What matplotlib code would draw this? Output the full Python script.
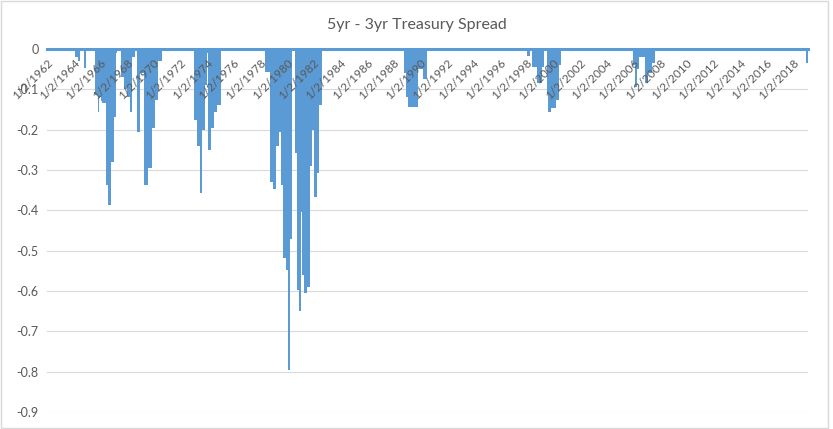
import matplotlib.pyplot as plt
import matplotlib.patches as mpatches
import matplotlib.transforms as mtransforms
import numpy as np

# step series: position on the axis (decimal year) where a level starts, and the spread level
step_years = [
    1962.00, 1964.11, 1964.30, 1964.48, 1964.78, 1964.93,
    1965.61, 1965.83, 1965.91, 1966.06, 1966.14, 1966.44, 1966.59, 1966.81, 1967.04, 1967.19, 1967.26,
    1967.56, 1967.80, 1968.00, 1968.24, 1968.39, 1968.62,
    1968.77, 1969.00, 1969.30, 1969.59, 1969.89, 1970.12, 1970.35, 1970.65,
    1973.05, 1973.30, 1973.52, 1973.65, 1973.88, 1974.03, 1974.11, 1974.35, 1974.55, 1974.80, 1975.08,
    1978.39, 1978.77, 1978.99, 1979.22, 1979.44, 1979.59, 1979.74, 1979.97, 1980.10, 1980.27, 1980.42,
    1980.65, 1980.80, 1980.95, 1981.10, 1981.17, 1981.32, 1981.55, 1981.77, 1981.92, 1982.08, 1982.30,
    1982.45, 1982.68,
    1988.84, 1988.95, 1989.07, 1989.82, 1990.20, 1990.50,
    1998.02, 1998.24,
    1998.39, 1998.77, 1999.14, 1999.29,
    1999.53, 1999.60, 1999.83, 2000.20, 2000.41, 2000.56,
    2005.98, 2006.12, 2006.27, 2006.42, 2006.89, 2007.11, 2007.41, 2007.64,
    2018.99, 2019.14,
]
spread = [
    0.0, -0.02, -0.03, 0.0, -0.047, 0.0,
    -0.115, -0.155, -0.12, -0.13, -0.135, -0.337, -0.386, -0.28, -0.168, -0.01, 0.0,
    -0.07, -0.10, -0.12, -0.155, -0.02, 0.0,
    -0.207, -0.06, -0.337, -0.295, -0.196, -0.126, -0.03, 0.0,
    -0.175, -0.24, -0.357, -0.20, -0.09, -0.01, -0.25, -0.196, -0.155, -0.14, 0.0,
    -0.057, -0.33, -0.347, -0.24, -0.205, -0.337, -0.517, -0.547, -0.795, -0.47, 0.0,
    -0.257, -0.597, -0.65, -0.405, -0.56, -0.604, -0.59, -0.29, -0.2, -0.366, -0.307,
    -0.138, 0.0,
    -0.06, -0.12, -0.143, -0.05, -0.075, 0.0,
    -0.017, 0.0,
    -0.045, -0.085, -0.045, 0.0,
    -0.11, -0.155, -0.146, -0.126, -0.04, 0.0,
    -0.04, -0.093, -0.05, -0.02, -0.085, -0.06, -0.035, 0.0,
    -0.035, -0.035,
]
tick_years = list(range(1962, 2019, 2))
tick_labels = [f'1/2/{y}' for y in tick_years]
y_ticks = [0, -0.1, -0.2, -0.3, -0.4, -0.5, -0.6, -0.7, -0.8, -0.9]

blue = '#5B9BD5'
gray = '#595959'

fig = plt.figure(figsize=(8.33, 4.29), dpi=100)
ax = fig.add_axes([0.0564, 0.0396, 0.9136, 0.8462])

x = np.array(step_years)
y = np.array(spread)
ax.fill_between(x, y, 0, step='post', color=blue, linewidth=0, zorder=1)
ax.plot([x[0], x[-1]], [0, 0], color=blue, lw=2.2, clip_on=False, zorder=1.5)

# grid behind the area, labels in front of it
for v in y_ticks[1:]:
    ax.axhline(v, color='#d9d9d9', lw=0.8, zorder=0.5)
ax.set_axisbelow(False)

ax.set_xlim(1962.0, 2019.14)
ax.set_ylim(-0.9, 0)
ax.set_yticks(y_ticks)
ax.set_yticklabels(['0' if v == 0 else f'{v:.1f}' for v in y_ticks])

for s in ax.spines.values():
    s.set_visible(False)
ax.spines['bottom'].set_position(('data', 0))

ax.set_xticks(tick_years)
ax.set_xticklabels(tick_labels, rotation=45, ha='right', va='center', rotation_mode='anchor')
ax.tick_params(axis='x', length=0, pad=9, labelsize=8.5, labelcolor=gray)
ax.tick_params(axis='y', length=0, pad=6, labelsize=9, labelcolor=gray)
shift = mtransforms.ScaledTranslation(0.04, 0, fig.dpi_scale_trans)
for lab in ax.get_xticklabels():
    lab.set_family('Lato')
    lab.set_transform(lab.get_transform() + shift)
for lab in ax.get_yticklabels():
    lab.set_family('Lato')

fig.suptitle('5yr - 3yr Treasury Spread', x=0.501, y=0.958, fontsize=11.5,
             color=gray, family='Lato')

fig.patches.append(mpatches.Rectangle((0.001, 0.002), 0.993, 0.995, transform=fig.transFigure,
                                      fill=False, edgecolor='#d9d9d9', lw=1))

plt.savefig('out.png', dpi=100)
